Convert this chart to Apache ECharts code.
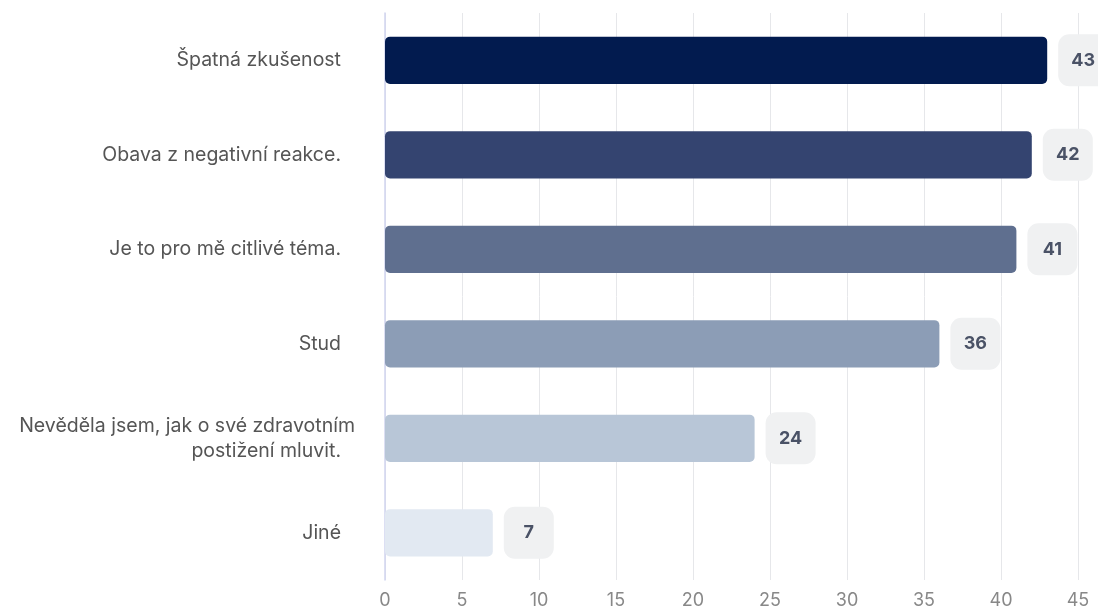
<!DOCTYPE html>
<html><head><meta charset="utf-8">
<script src="https://cdn.jsdelivr.net/npm/echarts@6/dist/echarts.min.js"></script>
<style>html,body{margin:0;padding:0;background:#fff}#c{width:1098px;height:611px}</style>
</head><body><div id="c"></div>
<script>
const categories = ["Špatná zkušenost","Obava z negativní reakce.","Je to pro mě citlivé téma.","Stud","Nevěděla jsem, jak o své zdravotním\npostižení mluvit.","Jiné"];
const values = [43,42,41,36,24,7];
const colors = ["#021b4f","#344470","#5f6f8f","#8c9db6","#b8c6d7","#e2e9f2"];
const xTicks = {min:0,max:45,interval:5};

const chart = echarts.init(document.getElementById('c'));
chart.setOption({
  animation:false,
  grid:{left:385,right:20,top:13,bottom:31,containLabel:false},
  xAxis:{type:'value',min:xTicks.min,max:xTicks.max,interval:xTicks.interval,
    axisLine:{show:false},axisTick:{show:false},
    splitLine:{lineStyle:{color:'#e6e7ea',width:1}},
    axisLabel:{color:'#888',fontSize:18,fontFamily:'Inter',margin:12}},
  yAxis:{type:'category',data:categories,inverse:true,
    axisLine:{show:true,lineStyle:{color:'#d0d5ef',width:1.5}},axisTick:{show:false},
    axisLabel:{color:'#555',fontSize:19.5,fontFamily:'Inter',margin:30,align:'right',lineHeight:25,
      formatter:function(v){
        const lines=v.split('\n');
        if(lines.length===1) return '{p|'+v+'}';
        return lines.map((l,i)=>i===lines.length-1?'{p|'+l+'}':'{a|'+l+'}').join('\n');
      },
      rich:{
        p:{color:'#555',fontSize:19.5,fontFamily:'Inter',lineHeight:25,padding:[0,14,0,0]},
        a:{color:'#555',fontSize:19.5,fontFamily:'Inter',lineHeight:25}
      }}},
  series:[{type:'bar',barWidth:'50%',
    data:values.map((v,i)=>({value:v,itemStyle:{color:colors[i],borderRadius:5}})),
    label:{show:true,position:'right',distance:11,formatter:'{v|{c}}',
      rich:{v:{backgroundColor:'#f0f1f2',borderRadius:11,width:22,align:'center',lineHeight:18,
        padding:[17,14],fontWeight:'bold',fontSize:18,fontFamily:'Inter',color:'#4a5266'}}}}]
});
</script></body></html>
